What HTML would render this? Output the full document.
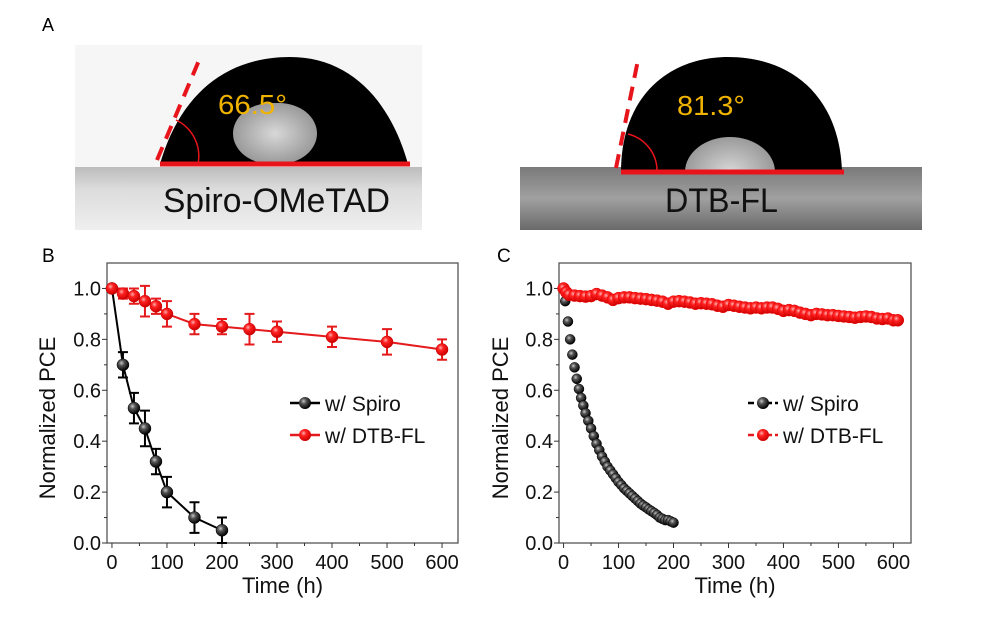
<!DOCTYPE html>
<html><head><meta charset="utf-8">
<style>
body{margin:0;background:#fff;}
svg{display:block;font-family:"Liberation Sans",Arial,sans-serif;}
</style></head>
<body>
<svg id="fig" width="983" height="627" viewBox="0 0 983 627" xmlns="http://www.w3.org/2000/svg">
<defs>
<radialGradient id="gBlack" cx="0.38" cy="0.35" r="0.65"><stop offset="0" stop-color="#c8c8c8"/><stop offset="0.35" stop-color="#555"/><stop offset="1" stop-color="#000"/></radialGradient>
<radialGradient id="gRed" cx="0.38" cy="0.35" r="0.65"><stop offset="0" stop-color="#ffb0b0"/><stop offset="0.35" stop-color="#f22"/><stop offset="1" stop-color="#c00"/></radialGradient>
<linearGradient id="sub1" x1="0" y1="0" x2="0" y2="1"><stop offset="0" stop-color="#bcbcbc"/><stop offset="0.35" stop-color="#dcdcdc"/><stop offset="1" stop-color="#efefef"/></linearGradient>
<linearGradient id="sub2" x1="0" y1="0" x2="0" y2="1"><stop offset="0" stop-color="#7a7a7a"/><stop offset="0.5" stop-color="#a0a0a0"/><stop offset="1" stop-color="#6a6a6a"/></linearGradient>
<radialGradient id="refl" cx="0.5" cy="0.5" r="0.5"><stop offset="0" stop-color="#d8d8d8"/><stop offset="1" stop-color="#9a9a9a"/></radialGradient>
<clipPath id="aboveBase"><rect x="600" y="40" width="300" height="132"/></clipPath>
</defs>

<!-- Panel A -->
<text x="42" y="31" font-size="18">A</text>
<g>
  <rect x="75" y="45" width="347" height="122" fill="#f6f6f6"/>
  <rect x="75" y="167" width="347" height="63" fill="url(#sub1)"/>
  <path d="M160,164 C180,95 225,57 290,57 C350,57 390,100 408,164 Z" fill="#000"/>
  <rect x="233" y="103" width="84" height="61" rx="38" fill="url(#refl)"/>
  <line x1="160" y1="164" x2="410" y2="164" stroke="#e8141b" stroke-width="5"/>
  <line x1="157" y1="160" x2="200" y2="58" stroke="#e8141b" stroke-width="4" stroke-dasharray="14,9"/>
  <path d="M176,120 A40,40 0 0 1 198,164" fill="none" stroke="#e8141b" stroke-width="1.5"/>
  <text x="218" y="114" font-size="28" fill="#f0b400" textLength="69" lengthAdjust="spacingAndGlyphs">66.5°</text>
  <text x="163" y="212" font-size="34" fill="#111" textLength="227" lengthAdjust="spacingAndGlyphs">Spiro-OMeTAD</text>
</g>
<g>
  <rect x="520" y="167" width="402" height="63" fill="url(#sub2)"/>
  <path d="M621,172 C621,95 670,57 728,57 C795,57 840,100 842,172 Z" fill="#000"/>
  <ellipse cx="730" cy="172" rx="45" ry="35" fill="url(#refl)" clip-path="url(#aboveBase)"/>
  <line x1="621" y1="172" x2="844" y2="172" stroke="#e8141b" stroke-width="5"/>
  <line x1="616" y1="168" x2="638" y2="60" stroke="#e8141b" stroke-width="4" stroke-dasharray="14,9"/>
  <path d="M628,134 A38,38 0 0 1 657,172" fill="none" stroke="#e8141b" stroke-width="1.5"/>
  <text x="677" y="115" font-size="28" fill="#f0b400" textLength="68" lengthAdjust="spacingAndGlyphs">81.3°</text>
  <text x="665" y="212" font-size="34" fill="#111" textLength="113" lengthAdjust="spacingAndGlyphs">DTB-FL</text>
</g>

<text x="42" y="262" font-size="19">B</text>
<text x="497" y="262" font-size="19">C</text>
<g id="chartB"></g>
<g id="chartC"></g>
</svg>
<script>
// Panel B data
const bSpiroT = [0,20,40,60,80,100,150,200];
const bSpiroV = [1.0,0.70,0.53,0.45,0.32,0.20,0.10,0.05];
const bSpiroE = [0,0.05,0.06,0.07,0.05,0.06,0.06,0.05];
const bDtbT = [0,20,40,60,80,100,150,200,250,300,400,500,600];
const bDtbV = [1.0,0.98,0.97,0.95,0.93,0.90,0.86,0.85,0.84,0.83,0.81,0.79,0.76];
const bDtbE = [0,0.02,0.03,0.06,0.03,0.05,0.04,0.03,0.06,0.04,0.04,0.05,0.04];
// Panel C data
const cSpiroT = [3,8,12,16,20,24,28,32,36,40,45,50,55,60,65,70,75,80,85,90,95,100,105,110,115,120,125,130,135,140,145,150,155,160,165,170,175,180,185,190,195,200];
const cSpiroV = [0.95,0.87,0.80,0.74,0.69,0.645,0.605,0.57,0.54,0.51,0.48,0.45,0.42,0.39,0.365,0.34,0.32,0.30,0.285,0.27,0.255,0.24,0.228,0.215,0.205,0.195,0.185,0.175,0.165,0.155,0.147,0.14,0.132,0.125,0.118,0.11,0.10,0.095,0.09,0.09,0.085,0.08];
const cDtbT = [0,5,10,20,30,40,50,60,70,80,90,100,110,120,130,140,150,160,170,180,190,200,210,220,230,240,250,260,270,280,290,300,310,320,330,340,350,360,370,380,390,400,410,420,430,440,450,460,470,480,490,500,510,520,530,540,550,560,570,580,590,600,608];
const cDtbV = [1.0,0.985,0.975,0.972,0.97,0.968,0.97,0.978,0.972,0.965,0.955,0.962,0.965,0.965,0.962,0.96,0.958,0.955,0.952,0.948,0.94,0.948,0.95,0.948,0.945,0.94,0.942,0.94,0.938,0.932,0.928,0.935,0.932,0.928,0.925,0.922,0.925,0.922,0.925,0.925,0.92,0.912,0.915,0.912,0.905,0.9,0.895,0.9,0.898,0.895,0.895,0.892,0.89,0.888,0.885,0.888,0.89,0.888,0.882,0.88,0.882,0.875,0.875];
const xTicks = [0,100,200,300,400,500,600];
const yTicks = [0.0,0.2,0.4,0.6,0.8,1.0];

const NS = "http://www.w3.org/2000/svg";
function mk(parent, tag, attrs, text){
  const e = document.createElementNS(NS, tag);
  for (const k in attrs) e.setAttribute(k, attrs[k]);
  if (text !== undefined) e.textContent = text;
  parent.appendChild(e); return e;
}

function drawChart(g, o){
  const sx = v => o.left + (v - o.xmin) / (o.xmax - o.xmin) * (o.right - o.left);
  const sy = v => o.bottom - (v - 0) / 1.1 * (o.bottom - o.top);
  const frame = mk(g,'rect',{x:o.left,y:o.top,width:o.right-o.left,height:o.bottom-o.top,fill:'none',stroke:'#555','stroke-width':1.3});
  
  
  for (const t of xTicks){
    const x = sx(t);
    mk(g,'line',{x1:x,y1:o.bottom,x2:x,y2:o.bottom+5,stroke:'#333'});
    if (t<600) mk(g,'line',{x1:sx(t+50),y1:o.bottom,x2:sx(t+50),y2:o.bottom+3,stroke:'#333'});
    const lb = mk(g,'text',{x:x,y:o.bottom+26,'font-size':20,'text-anchor':'middle',fill:'#111'},String(t));
    
    
  }
  for (const t of yTicks){
    const y = sy(t);
    mk(g,'line',{x1:o.left-5,y1:y,x2:o.left,y2:y,stroke:'#333'});
    if (t<1) mk(g,'line',{x1:o.left-3,y1:sy(t+0.1),x2:o.left,y2:sy(t+0.1),stroke:'#333'});
    const lb = mk(g,'text',{x:o.left-6,y:y+7,'font-size':20,'text-anchor':'end',fill:'#111'},t.toFixed(1));
    
    
  }
  const xt = mk(g,'text',{x:(o.left+o.right)/2,y:o.bottom+50,'font-size':22,'text-anchor':'middle',fill:'#111'},'Time (h)');
  
  
  const yt = mk(g,'text',{x:0,y:0,'font-size':22,'text-anchor':'middle',fill:'#111',transform:`translate(${o.ytx},${(o.top+o.bottom)/2+15}) rotate(-90)`},'Normalized PCE');
  
  

  for (const s of o.series){
    const pts = s.t.map((t,i)=>sx(t)+','+sy(s.v[i])).join(' ');
    if (s.line){
      const pl = mk(g,'polyline',{points:pts,fill:'none',stroke:s.color,'stroke-width':2});
      
      
    }
    if (s.e){
      s.t.forEach((t,i)=>{
        if (!s.e[i]) return;
        const x=sx(t), y1=sy(s.v[i]+s.e[i]), y2=sy(s.v[i]-s.e[i]);
        const eb = mk(g,'path',{d:`M${x},${y1}V${y2}M${x-5},${y1}H${x+5}M${x-5},${y2}H${x+5}`,stroke:s.color,'stroke-width':2,fill:'none'});
        
        
      });
    }
    s.t.forEach((t,i)=>{
      const c = mk(g,'circle',{cx:sx(t),cy:sy(s.v[i]),r:s.r,fill:s.grad,stroke:s.stroke,'stroke-width':0.5});
      
      
    });
  }
  o.series.forEach((s,i)=>{
    const y = o.legY + i*32;
    mk(g,'line',{x1:o.legX,y1:y,x2:o.legX+30,y2:y,stroke:s.color,'stroke-width':2.5,'stroke-dasharray':o.legDash});
    mk(g,'circle',{cx:o.legX+15,cy:y,r:6,fill:s.grad});
    const lt = mk(g,'text',{x:o.legX+35,y:y+8,'font-size':21,fill:'#111'},s.label);
    
    
  });
}

drawChart(document.getElementById('chartB'),{left:107,right:458,top:263,bottom:543,xmin:-9,xmax:629,ytx:55,legX:290,legY:403,legDash:'none',
  series:[
    {name:'spiro',t:bSpiroT,v:bSpiroV,e:bSpiroE,color:'#000',grad:'url(#gBlack)',stroke:'#000',r:6,line:true,label:'w/ Spiro'},
    {name:'dtb-fl',t:bDtbT,v:bDtbV,e:bDtbE,color:'#e41a1c',grad:'url(#gRed)',stroke:'#c00',r:6,line:true,label:'w/ DTB-FL'}
  ]});
drawChart(document.getElementById('chartC'),{left:559,right:911,top:263,bottom:543,xmin:-8.3,xmax:632,ytx:508,legX:748,legY:403,legDash:'6,3',
  series:[
    {name:'spiro',t:cSpiroT,v:cSpiroV,color:'#000',grad:'url(#gBlack)',stroke:'#000',r:5,line:false,label:'w/ Spiro'},
    {name:'dtb-fl',t:cDtbT,v:cDtbV,color:'#e41a1c',grad:'url(#gRed)',stroke:'#e00',r:6,line:false,label:'w/ DTB-FL'}
  ]});
</script>
</body></html>
